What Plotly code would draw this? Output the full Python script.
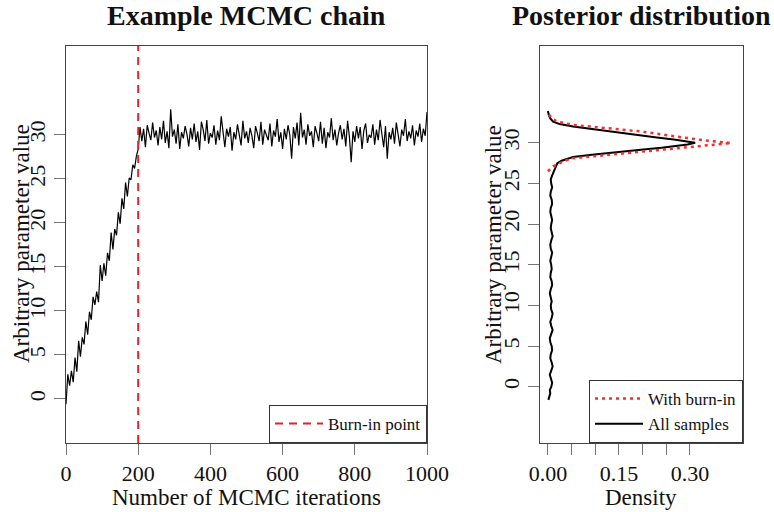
import plotly.graph_objects as go

# ---------------- data ----------------
ITERATIONS = list(range(0, 1001, 5))
CHAIN_BURNIN = [-0.6, 2.8, 1.5, 3.2, 1.9, 4.7, 3.1, 6.6, 4.8, 7.0,
                6.2, 8.8, 7.3, 9.9, 9.0, 11.6, 10.7, 12.2, 11.0, 15.2,
                13.4, 15.4, 14.0, 16.6, 15.7, 18.9, 17.0, 19.3, 18.6, 21.2,
                19.9, 22.8, 21.6, 24.6, 23.0, 25.1, 24.9, 26.6, 26.2, 27.6,
                28.4]
CHAIN_POST = [30.9, 29.3, 30.7, 28.6, 31.1, 30.2, 29.4, 31.4, 29.7, 30.5,
              28.8, 30.9, 29.5, 31.6, 29.1, 30.4, 28.5, 32.9, 29.8, 30.6,
              29.0, 31.2, 28.4, 30.3, 29.6, 31.0, 30.1, 28.7, 30.8, 29.5,
              31.3, 29.2, 30.4, 28.3, 31.5, 30.6, 29.3, 31.7, 29.0, 30.2,
              29.7, 31.1, 28.9, 30.5, 29.4, 32.1, 29.9, 28.6, 30.7, 29.8,
              30.9, 28.2, 30.3, 29.5, 31.2, 30.0, 28.8, 31.6, 29.6, 30.4,
              29.1, 30.8, 29.9, 28.5, 31.0, 30.2, 29.3, 31.5, 28.9, 30.6,
              30.1, 29.4, 31.3, 28.7, 30.5, 29.8, 31.8, 29.2, 30.3, 28.4,
              30.7, 29.5, 31.1, 30.0, 27.3, 30.9, 29.6, 31.4, 28.8, 32.5,
              29.7, 30.6, 28.9, 31.2, 29.9, 30.4, 28.6, 31.0, 30.2, 29.3,
              31.5, 29.0, 30.8, 28.5, 30.3, 29.7, 31.9, 29.4, 30.6, 28.8,
              30.2, 31.1, 29.5, 30.7, 28.7, 31.6, 29.8, 26.9, 30.4, 29.2,
              31.0, 29.6, 30.9, 28.4, 30.5, 31.3, 29.1, 30.0, 29.7, 31.2,
              28.9, 30.6, 29.4, 31.7, 30.1, 28.6, 31.0, 27.3, 30.3, 29.5,
              30.8, 29.0, 31.4, 30.2, 28.7, 30.6, 29.9, 31.8, 29.3, 30.4,
              29.6, 31.1, 28.8, 30.5, 29.8, 31.3, 29.2, 30.7, 29.9, 32.6]
CHAIN = CHAIN_BURNIN + CHAIN_POST
BURN_IN = 200

# density of all samples (parameter value, density)
DENS_ALL_VALUE = [-1.6, -1.2, -0.8, -0.4, 0.0, 0.5, 1.0, 1.5, 2.0, 2.5,
                  3.0, 3.5, 4.0, 4.5, 5.0, 5.5, 6.0, 6.5, 7.0, 7.5,
                  8.0, 8.5, 9.0, 9.5, 10.0, 10.5, 11.0, 11.5, 12.0, 12.5,
                  13.0, 13.5, 14.0, 14.5, 15.0, 15.5, 16.0, 16.5, 17.0, 17.5,
                  18.0, 18.5, 19.0, 19.5, 20.0, 20.5, 21.0, 21.5, 22.0, 22.5,
                  23.0, 23.5, 24.0, 24.5, 25.0, 25.5, 26.0, 26.5, 27.0, 27.5,
                  27.8, 28.0, 28.25, 28.5, 28.75, 29.0, 29.15, 29.4, 29.6, 29.8,
                  30.0, 30.2, 30.4, 30.65, 30.9, 31.15, 31.4, 31.7, 32.0, 32.3,
                  32.6, 33.0, 33.4, 33.9]
DENS_ALL = [0.001, 0.003, 0.005, 0.004, 0.007, 0.009, 0.006, 0.004, 0.007, 0.010,
            0.008, 0.005, 0.006, 0.009, 0.008, 0.005, 0.004, 0.007, 0.010, 0.007,
            0.005, 0.008, 0.010, 0.007, 0.006, 0.008, 0.006, 0.004, 0.006, 0.009,
            0.008, 0.005, 0.006, 0.008, 0.007, 0.005, 0.007, 0.009, 0.006, 0.005,
            0.007, 0.010, 0.008, 0.006, 0.007, 0.009, 0.007, 0.005, 0.006, 0.009,
            0.008, 0.005, 0.006, 0.009, 0.007, 0.006, 0.009, 0.013, 0.016, 0.020,
            0.029, 0.040, 0.053, 0.088, 0.125, 0.170, 0.196, 0.240, 0.270, 0.295,
            0.311, 0.290, 0.266, 0.230, 0.196, 0.160, 0.125, 0.088, 0.053, 0.025,
            0.011, 0.005, 0.002, 0.000]

# density of post burn-in samples
DENS_POST_VALUE = [26.5, 26.8, 27.1, 27.5, 27.8, 28.1, 28.5, 28.9, 29.3, 29.65,
                   29.97, 30.3, 30.8, 31.4, 31.8, 32.2, 32.6, 33.0, 33.5, 33.9]
DENS_POST = [0.000, 0.005, 0.011, 0.025, 0.036, 0.053, 0.125, 0.195, 0.266, 0.330,
             0.387, 0.330, 0.266, 0.195, 0.125, 0.053, 0.020, 0.008, 0.002, 0.000]

X_TICKS = [0, 200, 400, 600, 800, 1000]
Y_TICKS = [0, 5, 10, 15, 20, 25, 30]
DENS_TICKS = [0.00, 0.05, 0.10, 0.15, 0.20, 0.25, 0.30]
DENS_TICK_TEXT = ["0.00", "", "", "0.15", "", "", "0.30"]

# ---------------- figure ----------------
W, H = 774, 512
FONT = "Liberation Serif"


def px(x):
    return x / W


def py(y):
    return 1 - y / H


fig = go.Figure()

fig.add_trace(go.Scatter(x=ITERATIONS, y=CHAIN, mode="lines",
                         line=dict(color="black", width=1.2),
                         showlegend=False, xaxis="x", yaxis="y"))

fig.add_shape(type="line", xref="x", yref="y domain", x0=BURN_IN, x1=BURN_IN,
              y0=0, y1=1, line=dict(color="#e8202a", width=2, dash="8px,6px"),
              showlegend=True, name="Burn-in point", legend="legend")

fig.add_trace(go.Scatter(x=DENS_ALL, y=DENS_ALL_VALUE, mode="lines",
                         line=dict(color="black", width=2),
                         name="All samples", legend="legend2", legendrank=2,
                         xaxis="x2", yaxis="y2"))
fig.add_trace(go.Scatter(x=DENS_POST, y=DENS_POST_VALUE, mode="lines",
                         line=dict(color="#ff2a2a", width=2.5, dash="3px,4px"),
                         name="With burn-in", legend="legend2", legendrank=1,
                         xaxis="x2", yaxis="y2"))

axis_common = dict(showline=True, mirror=True, linecolor="#444", linewidth=1,
                   ticks="outside", ticklen=11, tickcolor="#777", tickwidth=1,
                   showgrid=False, zeroline=False, automargin=False,
                   tickfont=dict(family=FONT, size=22, color="#111"))

y_top, y_bot = 46, 443
fig.update_layout(
    width=W, height=H,
    margin=dict(l=0, r=0, t=0, b=0),
    plot_bgcolor="white", paper_bgcolor="white",
    font=dict(family=FONT, size=22, color="#111"),
    xaxis=dict(domain=[px(66), px(427)], range=[0, 1000], tickvals=X_TICKS,
               anchor="y", **axis_common),
    yaxis=dict(domain=[py(y_bot), py(y_top)], range=[-5.0, 40.1], tickvals=Y_TICKS,
               tickangle=-90, anchor="x", **axis_common),
    xaxis2=dict(domain=[px(540), px(743)], range=[-0.0167, 0.412], tickvals=DENS_TICKS,
                ticktext=DENS_TICK_TEXT, anchor="y2", **axis_common),
    yaxis2=dict(domain=[py(y_bot), py(y_top)], range=[-6.9, 41.9], tickvals=Y_TICKS,
                tickangle=-90, anchor="x2", **axis_common),
    legend=dict(x=px(427), y=py(443), xanchor="right", yanchor="bottom",
                bgcolor="white", bordercolor="#333", borderwidth=1,
                itemwidth=48,
                font=dict(family=FONT, size=17, color="#111")),
    legend2=dict(x=px(743), y=py(443), xanchor="right", yanchor="bottom",
                 bgcolor="white", bordercolor="#333", borderwidth=1,
                 traceorder="normal", itemwidth=48,
                 font=dict(family=FONT, size=17, color="#111")),
)

annos = [
    dict(text="<b>Example MCMC chain</b>", x=px(246), y=py(15), size=28, angle=0),
    dict(text="<b>Posterior distribution</b>", x=px(641), y=py(15), size=28, angle=0),
    dict(text="Number of MCMC iterations", x=px(246), y=py(497), size=23, angle=0),
    dict(text="Density", x=px(641), y=py(497), size=23, angle=0),
    dict(text="Arbitrary parameter value", x=px(21), y=py(244), size=23, angle=-90),
    dict(text="Arbitrary parameter value", x=px(493), y=py(244), size=23, angle=-90),
]
for a in annos:
    fig.add_annotation(text=a["text"], x=a["x"], y=a["y"], xref="paper", yref="paper",
                       xanchor="center", yanchor="middle", showarrow=False,
                       textangle=a["angle"],
                       font=dict(family=FONT, size=a["size"], color="#111"))

fig.write_html("out.html")
